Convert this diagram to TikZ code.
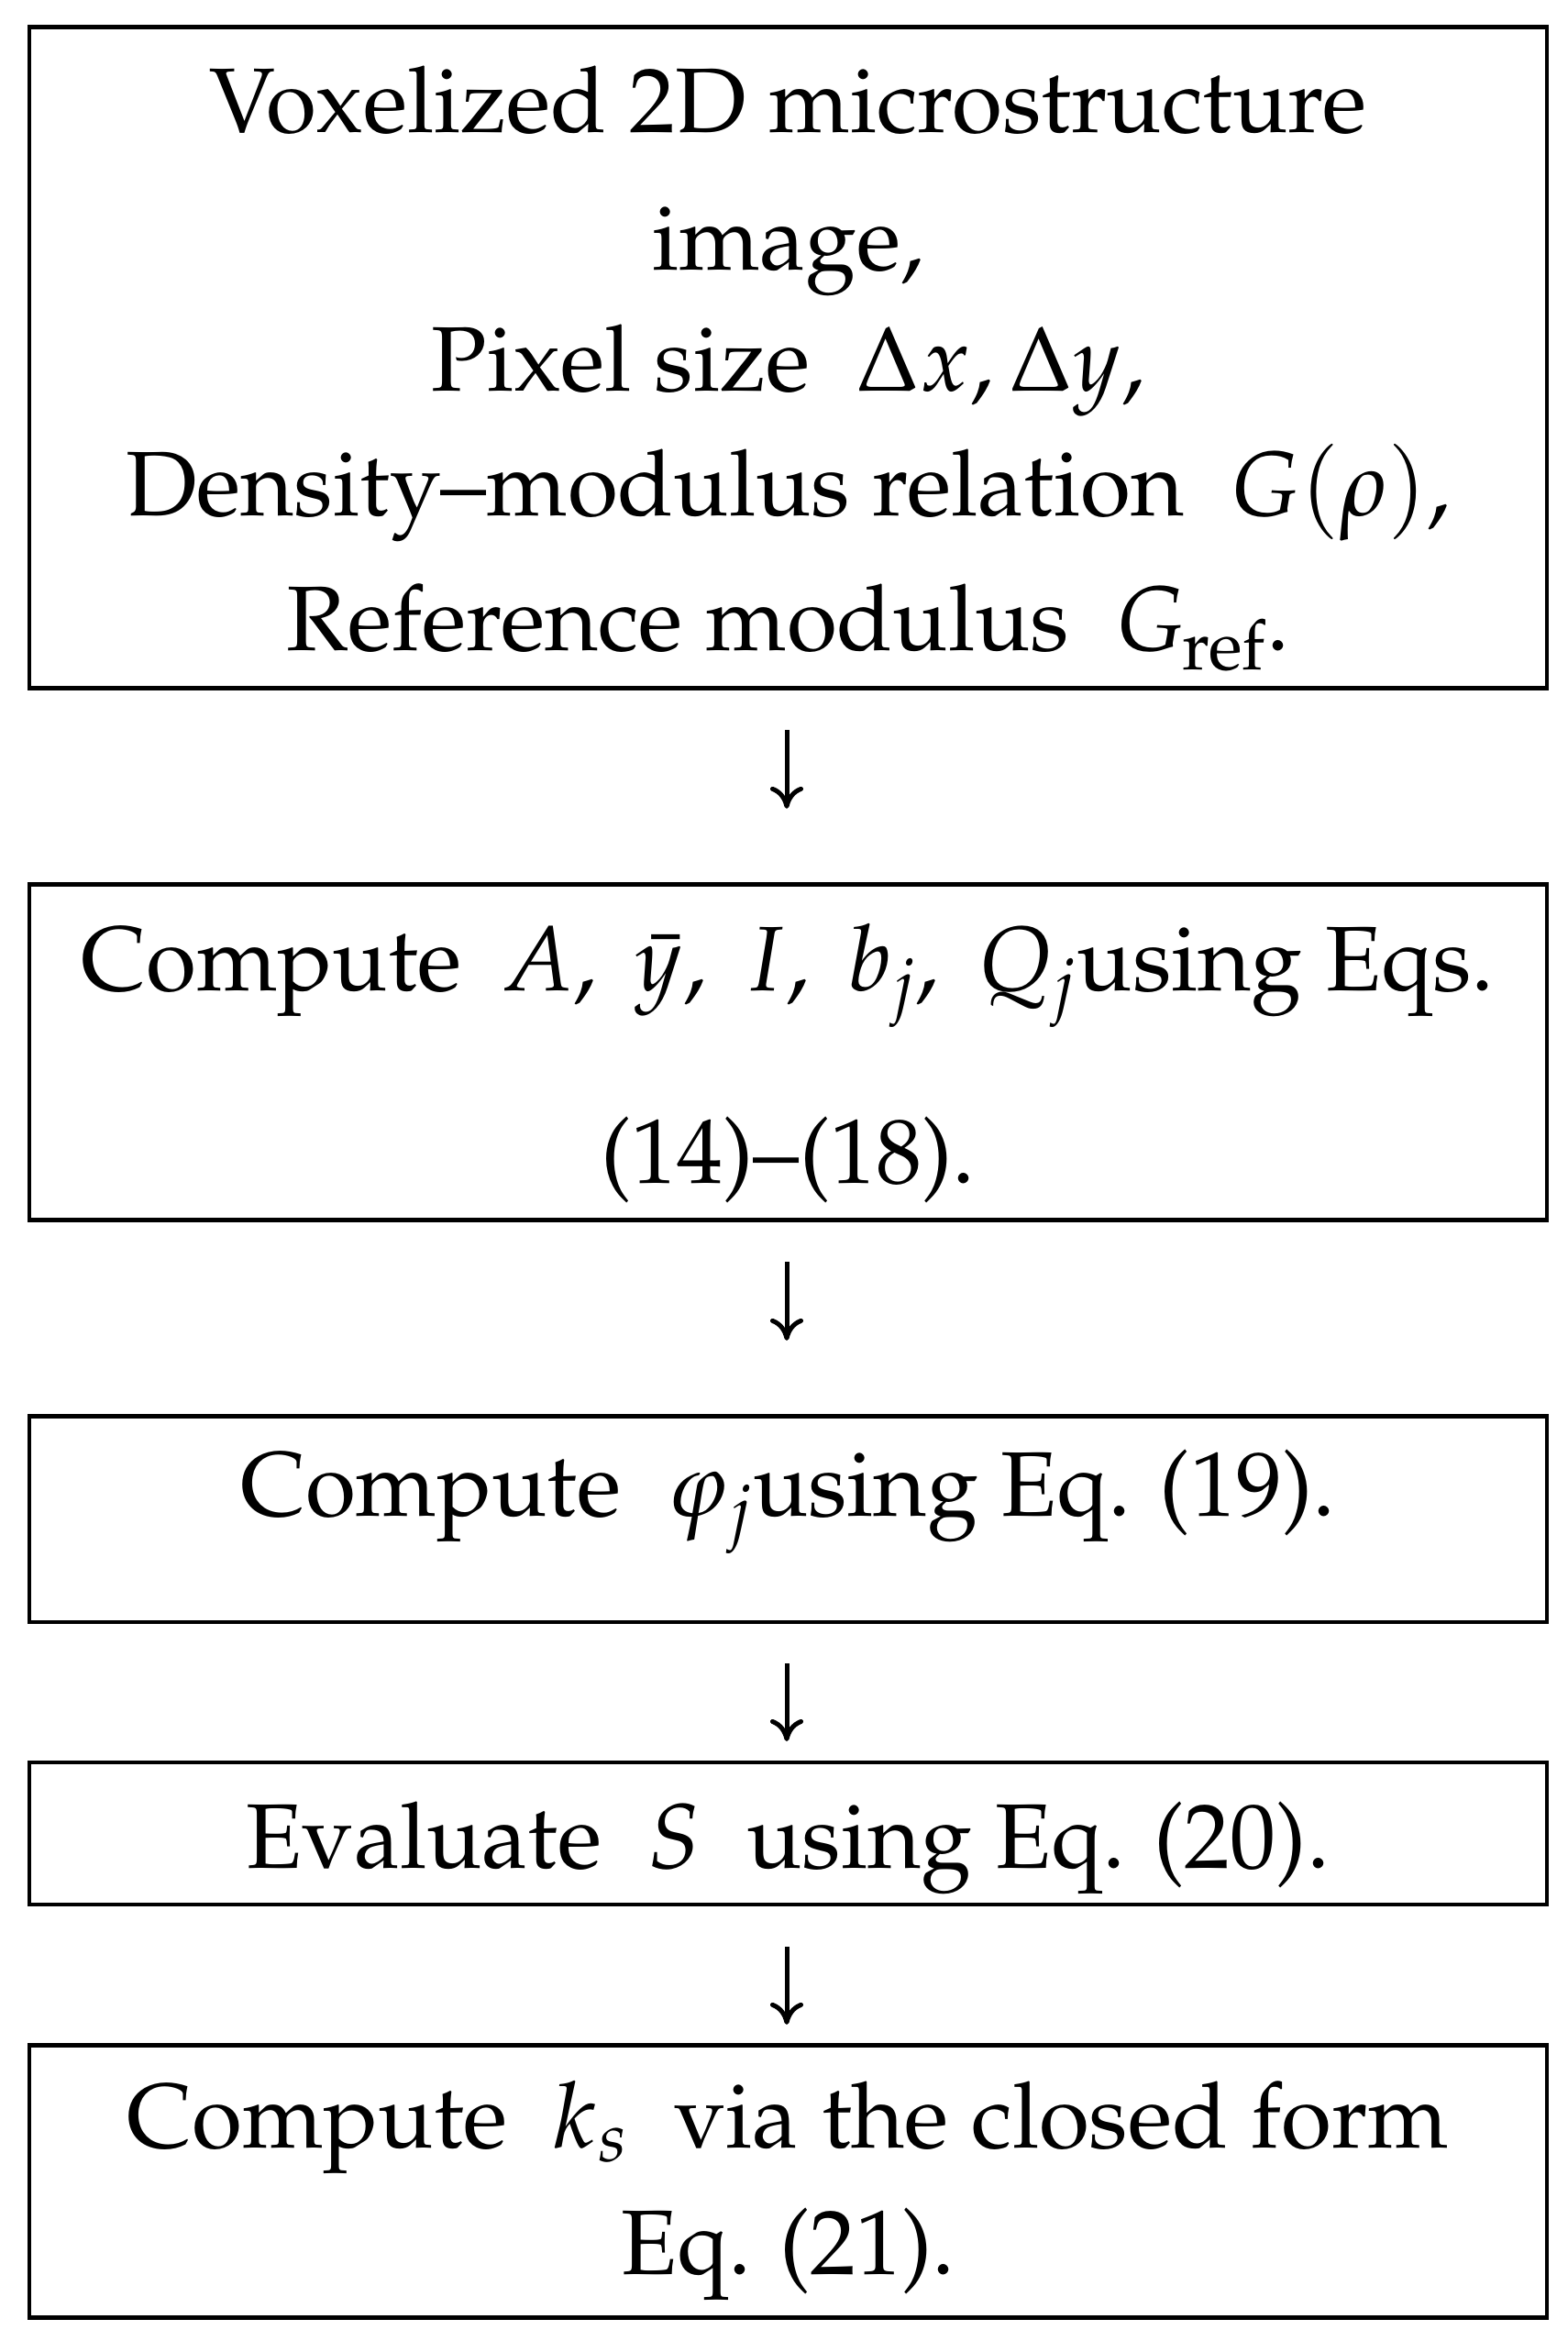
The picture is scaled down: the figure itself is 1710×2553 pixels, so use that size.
\documentclass[tikz,border=0pt]{standalone}
\usepackage[T1]{fontenc}
\usepackage{mathpazo}
\usepackage{amsmath}
\usetikzlibrary{arrows.meta}

\begin{document}
\begin{tikzpicture}[x=0.01cm, y=-0.01cm,
        box/.style={draw, line width=0.045cm, outer sep=0pt, inner sep=0pt,
                minimum width=16.54cm, align=center,
                font=\fontsize{28.45pt}{39.8pt}\selectfont},
        flow/.style={line width=0.05cm, -{To[length=0.24cm, width=0.36cm]}}]
        \useasboundingbox (0,0) rectangle (1710,2553);
        \node [box, minimum height=7.21cm] (vox) at (859.5,390)
                {\rule{0pt}{1.04cm}Voxelized 2D microstructure\\[0.1cm] image,\\[-0.08cm]
                Pixel size\enspace$\Delta x,\Delta y$,\\[-0.03cm]
                Density--modulus relation\enspace$G(\rho)$,\\[0.07cm]
                Reference modulus\enspace$G_{\mathrm{ref}}$.\rule[-0.3cm]{0pt}{0.3cm}};
        \node [box, minimum height=3.66cm] (sec) at (859.5,1147.5)
                {\rule{0pt}{1.05cm}Compute\hspace{0.42em}$A$,\hspace{0.42em}$\bar{y}$,\hspace{0.42em}$I$,\hspace{0.42em}$b_j$,\hspace{0.42em}$Q_j$using Eqs.\\[0.7cm]
                (14)--(18).\rule[-0.3cm]{0pt}{0.3cm}};
        \node [box, minimum height=2.245cm] (phi) at (859.5,1656.75)
                {\rule{0pt}{0.8cm}Compute\enspace$\varphi_j$using Eq. (19).\rule[-0.865cm]{0pt}{0.865cm}};
        \node [box, minimum height=1.55cm] (eva) at (859.5,1999.5)
                {\rule{0pt}{1.05cm}Evaluate\enspace$S$\enspace using Eq. (20).\rule[-0.3cm]{0pt}{0.3cm}};
        \node [box, minimum height=2.97cm] (kap) at (859.5,2379)
                {\rule{0pt}{0.94cm}Compute\enspace$k_s$\enspace via the closed form\\[-0.02cm]
                Eq. (21).\rule[-0.3cm]{0pt}{0.3cm}};
        \draw [flow, shorten <=0.455cm, shorten >=0.825cm] (vox.south -| 858,0) -- (sec.north -| 858,0);
        \draw [flow, shorten <=0.455cm, shorten >=0.825cm] (sec.south -| 858,0) -- (phi.north -| 858,0);
        \draw [flow, shorten <=0.45cm, shorten >=0.23cm] (phi.south -| 858,0) -- (eva.north -| 858,0);
        \draw [flow, shorten <=0.46cm, shorten >=0.225cm] (eva.south -| 858,0) -- (kap.north -| 858,0);
\end{tikzpicture}
\end{document}
